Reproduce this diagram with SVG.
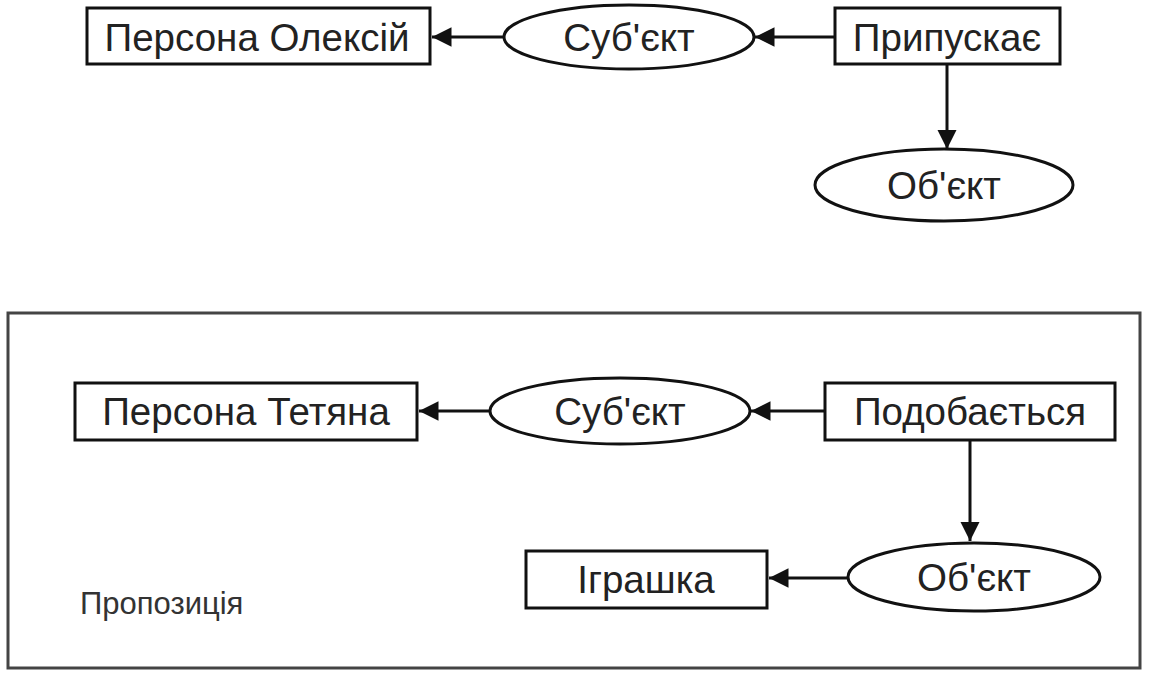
<svg xmlns="http://www.w3.org/2000/svg" width="1149" height="676" viewBox="0 0 1149 676">
<style>
.n{fill:#fff;stroke:#111;stroke-width:3}
.t{font-family:"Liberation Sans",Arial,sans-serif;font-size:38.5px;fill:#222;text-anchor:middle;dominant-baseline:central}
.c{stroke:#111;stroke-width:3;fill:none;marker-end:url(#ah)}
.f{fill:none;stroke:#444;stroke-width:3}
.lbl{font-family:"Liberation Sans",Arial,sans-serif;font-size:31px;fill:#333}
</style>
<defs>
<marker id="ah" viewBox="0 0 10 10" refX="10" refY="5" markerWidth="6.5" markerHeight="6.5" markerUnits="strokeWidth" orient="auto">
<path d="M0,0 L10,5 L0,10 z" fill="#111"/>
</marker>
</defs>
<rect width="1149" height="676" fill="#fff"/>
<rect id="frame" class="f" x="8" y="313" width="1132" height="355"/>
<g id="connectors">
<line class="c" x1="504" y1="37" x2="432" y2="37"/>
<line class="c" x1="835" y1="37" x2="755" y2="37"/>
<line class="c" x1="947" y1="65" x2="947" y2="149"/>
<line class="c" x1="490" y1="411" x2="419" y2="411"/>
<line class="c" x1="825" y1="411" x2="751" y2="411"/>
<line class="c" x1="970" y1="440" x2="970" y2="541"/>
<line class="c" x1="848" y1="578" x2="769" y2="578"/>
</g>
<g id="n1"><rect class="n" x="87" y="8" width="343" height="56"/><text class="t" x="257" y="37">Персона Олексій</text></g>
<g id="n2"><ellipse class="n" cx="629" cy="37" rx="125" ry="32"/><text class="t" x="629" y="37">Суб'єкт</text></g>
<g id="n3"><rect class="n" x="835" y="8" width="225" height="56"/><text class="t" x="947" y="37">Припускає</text></g>
<g id="n4"><ellipse class="n" cx="944" cy="185" rx="129" ry="36"/><text class="t" x="944" y="185">Об'єкт</text></g>
<g id="n5"><rect class="n" x="75" y="383" width="342" height="57"/><text class="t" x="246" y="411">Персона Тетяна</text></g>
<g id="n6"><ellipse class="n" cx="620" cy="411" rx="130" ry="33"/><text class="t" x="620" y="411">Суб'єкт</text></g>
<g id="n7"><rect class="n" x="825" y="383" width="290" height="57"/><text class="t" x="970" y="411">Подобається</text></g>
<g id="n8"><ellipse class="n" cx="974" cy="577" rx="126" ry="34"/><text class="t" x="974" y="577">Об'єкт</text></g>
<g id="n9"><rect class="n" x="526" y="551" width="241" height="57"/><text class="t" x="646" y="579">Іграшка</text></g>
<text class="lbl" x="80" y="614">Пропозиція</text>
</svg>
